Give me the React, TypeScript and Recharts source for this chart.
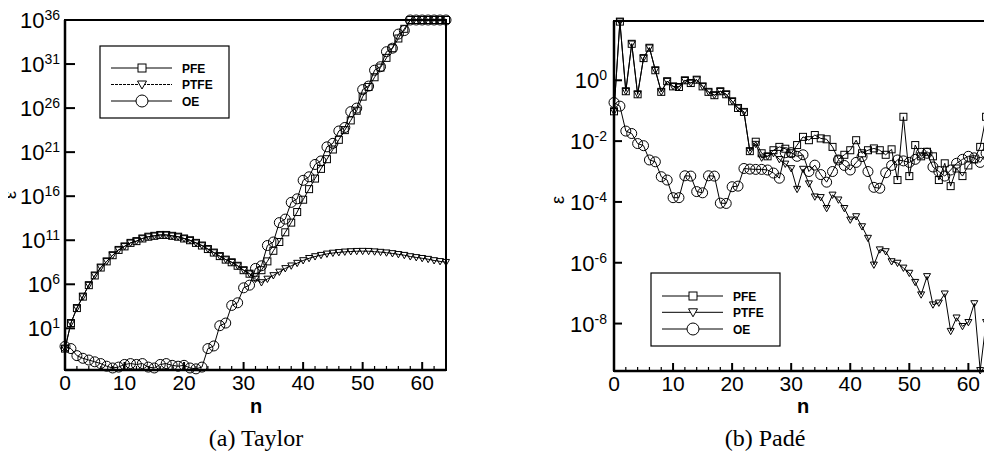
import { LineChart, Line, XAxis, YAxis, ReferenceArea } from 'recharts'

// x positions (polynomial degree n)
const nValues = Array.from({ length: 65 }, (_, i) => i)

// (a) Taylor -- values are log10(error)
const taylorPfe = [
  -1.3, 1.6, 3.3, 4.6, 5.9, 7.0, 7.9, 8.6, 9.3, 9.9, 10.3, 10.7, 10.9, 11.2, 11.4, 11.5,
  11.6, 11.6, 11.5, 11.4, 11.2, 11.0, 10.7, 10.4, 10.0, 9.6, 9.2, 8.8, 8.5, 8.1, 7.6, 7.2,
  6.8, 7.6, 8.6, 9.8, 10.8, 11.9, 13.0, 14.2, 15.6, 16.8, 18.0, 19.1, 20.2, 21.3, 22.4, 23.5,
  24.6, 25.7, 27.3, 28.4, 29.5, 30.6, 31.7, 32.8, 33.9, 35.0, 36, 36, 36, 36, 36, 36, 36,
]
const taylorPtfe = [
  -1.3, 1.6, 3.3, 4.6, 5.9, 7.0, 7.9, 8.6, 9.3, 9.9, 10.3, 10.7, 10.9, 11.2, 11.4, 11.5,
  11.6, 11.6, 11.5, 11.4, 11.2, 11.0, 10.7, 10.4, 10.0, 9.6, 9.2, 8.8, 8.5, 8.1, 7.6, 7.2,
  6.6, 6.2, 6.6, 7.0, 7.4, 7.8, 8.1, 8.4, 8.7, 8.95, 9.15, 9.3, 9.45, 9.55, 9.62, 9.68,
  9.72, 9.75, 9.76, 9.75, 9.7, 9.65, 9.58, 9.5, 9.4, 9.3, 9.15, 9.05, 8.95, 8.85, 8.7, 8.6, 8.5,
]
const taylorOe = [
  -1.05, -1.3, -2.1, -2.4, -2.6, -2.8, -3.0, -3.3, -3.5, -3.4, -3.1, -3.0, -3.1, -3.0, -3.4, -3.5,
  -3.1, -3.0, -3.2, -3.3, -3.2, -3.5, -3.6, -3.4, -1.3, -1.0, 1.3, 1.6, 3.6, 3.9, 5.6, 5.9,
  7.8, 8.1, 10.4, 10.8, 13.0, 13.4, 15.3, 15.7, 17.8, 18.2, 19.6, 20.0, 21.6, 22.0, 23.4, 23.8,
  25.6, 26.0, 28.1, 28.5, 30.3, 30.7, 32.4, 32.8, 34.4, 34.8, 36, 36, 36, 36, 36, 36, 36,
]

// (b) Padé -- values are log10(error)
const padePfe = [
  -1.02, 1.93, -0.36, 1.2, -0.46, 0.73, 1.07, 0.33, -0.38, -0.03, -0.2, -0.22, 0.0, -0.09, 0.02, -0.2,
  -0.38, -0.49, -0.36, -0.46, -0.69, -0.91, -1.04, -2.33, -2.02, -2.4, -2.5, -2.3, -2.19, -2.25, -2.4, -2.13,
  -1.86, -1.97, -1.8, -1.91, -1.94, -2.19, -2.6, -2.45, -2.3, -1.97, -2.4, -2.3, -2.24, -2.3, -2.45, -2.27,
  -3.28, -1.2, -3.15, -2.13, -2.5, -2.35, -2.5, -3.28, -2.73, -3.48, -2.9, -3.15, -2.8, -2.6, -2.19, -1.2, -3.15,
]
const padePtfe = [
  -1.02, 1.93, -0.36, 1.2, -0.46, 0.73, 1.07, 0.33, -0.38, -0.03, -0.2, -0.22, 0.0, -0.09, 0.02, -0.2,
  -0.38, -0.49, -0.36, -0.46, -0.69, -0.91, -1.04, -2.33, -2.1, -2.55, -2.5, -2.4, -2.6, -2.75, -2.9, -3.58,
  -2.92, -3.4, -3.83, -3.85, -4.21, -3.77, -3.93, -4.21, -4.59, -4.48, -4.81, -5.19, -6.07, -5.57, -5.63, -5.96,
  -6.01, -6.17, -6.34, -6.64, -7.05, -6.45, -7.38, -7.32, -7.02, -8.25, -7.81, -8.09, -7.96, -7.34, -9.54, -7.96, -8.3,
]
const padeOe = [
  -0.73, -0.85, -1.67, -1.75, -2.08, -2.15, -2.62, -2.68, -3.17, -3.28, -3.86, -3.86, -3.14, -3.15, -3.66, -3.7,
  -3.14, -3.15, -4.04, -4.05, -3.5, -3.48, -2.9, -2.92, -2.93, -2.93, -2.95, -3.05, -3.22, -2.38, -2.38, -2.5,
  -2.45, -3.0, -2.79, -3.1, -3.35, -3.0, -2.62, -2.8, -2.95, -2.7, -2.51, -3.0, -3.52, -3.55, -3.04, -2.8,
  -2.62, -2.65, -2.7, -2.6, -2.4, -2.4, -2.85, -3.0, -3.15, -2.95, -2.73, -2.6, -2.5, -2.55, -2.7, -2.4, -2.19,
]

const xTicks = [0, 2, 4, 6, 8, 10, 12, 14, 16, 18, 20, 22, 24, 26, 28, 30, 32, 34, 36, 38, 40, 42, 44, 46, 48, 50, 52, 54, 56, 58, 60, 62, 64]
const taylorYTicks = [1e1, 1e6, 1e11, 1e16, 1e21, 1e26, 1e31, 1e36]
const padeYTicks = [1e-8, 1e-6, 1e-4, 1e-2, 1e0]
const taylorDomain = [Math.pow(10, -3.73), 1e36]
const padeDomain = [Math.pow(10, -9.56), Math.pow(10, 1.95)]

const taylorData = nValues.map((n, i) => ({
  n,
  pfe: Math.pow(10, taylorPfe[i]),
  ptfe: Math.pow(10, taylorPtfe[i]),
  oe: Math.pow(10, taylorOe[i]),
}))
const padeData = nValues.map((n, i) => ({
  n,
  pfe: Math.pow(10, padePfe[i]),
  ptfe: Math.pow(10, padePtfe[i]),
  oe: Math.pow(10, padeOe[i]),
}))

const SANS = '"Liberation Sans", Arial, sans-serif'
const SERIF = '"Liberation Serif", "Times New Roman", serif'

// marker shapes, hollow like the printed figure
const square = (s: number) => (props: any) => {
  const { cx, cy, index } = props
  if (cx == null || cy == null) return <g key={`s${index}`} />
  return <rect key={`s${index}`} x={cx - s / 2} y={cy - s / 2} width={s} height={s} fill="none" stroke="#000" strokeWidth={1} />
}
const triangle = (s: number) => (props: any) => {
  const { cx, cy, index } = props
  if (cx == null || cy == null) return <g key={`t${index}`} />
  const pts = `${cx - s / 2},${cy - s * 0.4} ${cx + s / 2},${cy - s * 0.4} ${cx},${cy + s * 0.5}`
  return <polygon key={`t${index}`} points={pts} fill="none" stroke="#000" strokeWidth={1} />
}
const circle = (r: number) => (props: any) => {
  const { cx, cy, index } = props
  if (cx == null || cy == null) return <g key={`c${index}`} />
  return <circle key={`c${index}`} cx={cx} cy={cy} r={r} fill="none" stroke="#000" strokeWidth={1} />
}

function makeYTick(len: number, gap: number) {
  // eslint-disable-next-line @typescript-eslint/no-explicit-any
  return (props: any) => {
    const { x, y, payload } = props
    const exp = Math.round(Math.log10(payload.value))
    return (
      <g>
        <line x1={x} x2={x + len} y1={y} y2={y} stroke="#000" strokeWidth={2} />
        <text x={x - gap} y={y + 8} textAnchor="end" fontFamily={SANS} fontSize={22} fill="#000">
          10<tspan dy={-8} fontSize={14}>{exp}</tspan>
        </text>
      </g>
    )
  }
}

// eslint-disable-next-line @typescript-eslint/no-explicit-any
function XTick(props: any) {
  const { x, y, payload } = props
  const major = payload.value % 10 === 0
  return (
    <g>
      <line x1={x} x2={x} y1={y} y2={y - (major ? 8 : 4)} stroke="#000" strokeWidth={major ? 2 : 1.2} />
      {major && (
        <text x={x} y={y + 20} textAnchor="middle" fontFamily={SANS} fontSize={21} fill="#000">
          {payload.value}
        </text>
      )}
    </g>
  )
}

function Panel({ data, domain, yTicks, yWidth, margin, tickLen, tickGap, size }: any) {
  return (
    <LineChart width={size[0]} height={size[1]} data={data} margin={margin}>
      <XAxis
        dataKey="n"
        type="number"
        domain={[0, 64]}
        ticks={xTicks}
        interval={0}
        height={30}
        tickSize={0}
        tickMargin={0}
        tickLine={false}
        axisLine={{ stroke: '#000', strokeWidth: 2.5 }}
        tick={XTick}
      />
      <YAxis
        type="number"
        scale="log"
        domain={domain}
        ticks={yTicks}
        interval={0}
        width={yWidth}
        tickSize={0}
        tickMargin={0}
        tickLine={false}
        axisLine={{ stroke: '#000', strokeWidth: 2.5 }}
        tick={makeYTick(tickLen, tickGap)}
      />
      <ReferenceArea x1={0} x2={64} y1={domain[0]} y2={domain[1]} fill="none" stroke="#000" strokeWidth={2} />
      <Line dataKey="pfe" stroke="#000" strokeWidth={1} dot={square(7)} isAnimationActive={false} />
      <Line dataKey="ptfe" stroke="#000" strokeWidth={1} dot={triangle(7)} isAnimationActive={false} />
      <Line dataKey="oe" stroke="#000" strokeWidth={1} dot={circle(5)} isAnimationActive={false} />
    </LineChart>
  )
}

function LegendBox({ x, y, w, h, rows, dashPtfe }: any) {
  const entries = [
    { label: 'PFE', kind: 'square' },
    { label: 'PTFE', kind: 'triangle' },
    { label: 'OE', kind: 'circle' },
  ]
  const lx1 = x + 11
  const lx2 = x + 72
  const mx = x + 42
  return (
    <g>
      <rect x={x} y={y} width={w} height={h} fill="#fff" stroke="#000" strokeWidth={1.2} />
      {entries.map((e, i) => {
        const cy = rows[i]
        return (
          <g key={e.label}>
            <line x1={lx1} x2={lx2} y1={cy} y2={cy} stroke="#000" strokeWidth={1}
              strokeDasharray={e.kind === 'triangle' && dashPtfe ? '3 1' : undefined} />
            {e.kind === 'square' && <rect x={mx - 4} y={cy - 4} width={8} height={8} fill="#fff" stroke="#000" />}
            {e.kind === 'triangle' && (
              <polygon points={`${mx - 4.5},${cy - 3.5} ${mx + 4.5},${cy - 3.5} ${mx},${cy + 4.5}`} fill="#fff" stroke="#000" />
            )}
            {e.kind === 'circle' && <circle cx={mx} cy={cy} r={6} fill="#fff" stroke="#000" />}
            <text x={x + 82} y={cy + 4.5} fontFamily={SANS} fontSize={12} fontWeight="bold" fill="#000">
              {e.label}
            </text>
          </g>
        )
      })}
    </g>
  )
}

export default function App() {
  return (
    <div style={{ position: 'relative', width: 984, height: 457, background: '#fff' }}>
      <div style={{ position: 'absolute', left: 0, top: 0 }}>
        <Panel
          data={taylorData}
          domain={taylorDomain}
          yTicks={taylorYTicks}
          yWidth={57}
          margin={{ top: 12, right: 22, bottom: 48, left: 0 }}
          tickLen={10}
          tickGap={5}
          size={[460, 440]}
        />
      </div>
      <div style={{ position: 'absolute', left: 512, top: 0 }}>
        <Panel
          data={padeData}
          domain={padeDomain}
          yTicks={padeYTicks}
          yWidth={94}
          margin={{ top: 13, right: 0, bottom: 47, left: 0 }}
          tickLen={8}
          tickGap={7}
          size={[472, 440]}
        />
      </div>
      <svg width={984} height={457} style={{ position: 'absolute', left: 0, top: 0, pointerEvents: 'none', overflow: 'visible' }}>
        <LegendBox x={92} y={38} w={129} h={72} rows={[60, 76.5, 93]} dashPtfe />
        <LegendBox x={643} y={265} w={129} h={73} rows={[288, 304.3, 321]} />
        <text x={248} y={405} textAnchor="middle" fontFamily={SANS} fontSize={20} fontWeight="bold">n</text>
        <text x={795} y={405} textAnchor="middle" fontFamily={SANS} fontSize={20} fontWeight="bold">n</text>
        <text x={8} y={187} transform="rotate(-90 8 187)" textAnchor="middle" fontFamily={SANS} fontSize={18}>ε</text>
        <text x={556} y={192} transform="rotate(-90 556 192)" textAnchor="middle" fontFamily={SANS} fontSize={18}>ε</text>
        <text x={248} y={438} textAnchor="middle" fontFamily={SERIF} fontSize={24}>(a) Taylor</text>
        <text x={757} y={438} textAnchor="middle" fontFamily={SERIF} fontSize={24}>(b) Padé</text>
      </svg>
    </div>
  )
}
